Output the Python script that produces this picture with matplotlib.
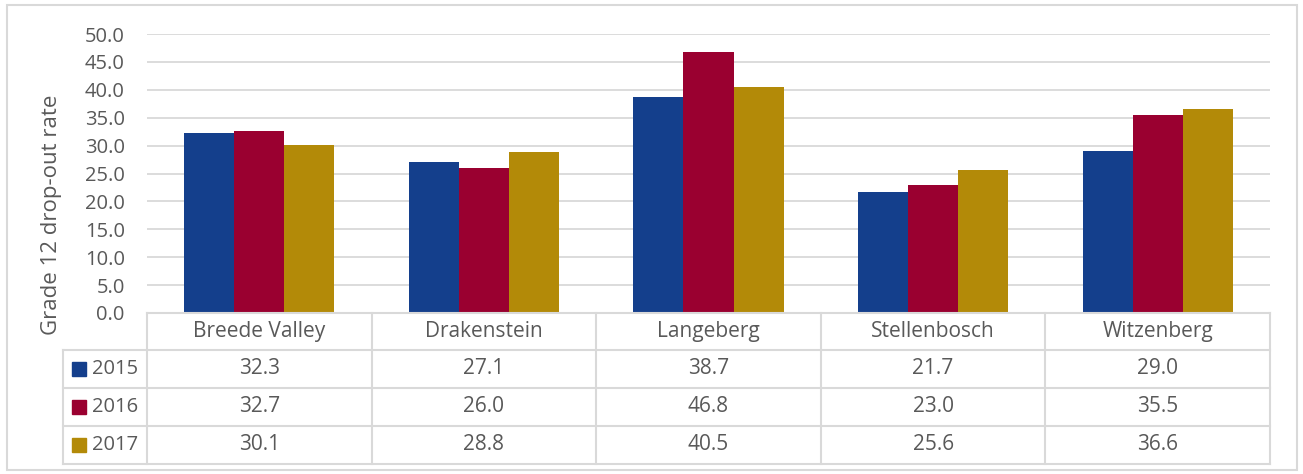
import numpy as np
import matplotlib.pyplot as plt
from matplotlib.patches import Rectangle

plt.rcParams['font.family'] = ['Open Sans', 'DejaVu Sans']

towns = ['Breede Valley', 'Drakenstein', 'Langeberg', 'Stellenbosch', 'Witzenberg']
years = ['2015', '2016', '2017']
rate_2015 = [32.3, 27.1, 38.7, 21.7, 29.0]
rate_2016 = [32.7, 26.0, 46.8, 23.0, 35.5]
rate_2017 = [30.1, 28.8, 40.5, 25.6, 36.6]

colors = ['#143f8c', '#9a0030', '#b38a08']
grey_text = '#595959'
grid_col = '#d9d9d9'

W, H = 1303, 474
fig = plt.figure(figsize=(W / 100, H / 100), dpi=100)

# plot area in pixel terms
left, right, top, bottom = 147, 1270, 34, 313
ax = fig.add_axes([left / W, 1 - bottom / H, (right - left) / W, (bottom - top) / H])

series = [rate_2015, rate_2016, rate_2017]
x = np.arange(len(towns))
bw = 0.223
for i, vals in enumerate(series):
    ax.bar(x + (i - 1) * bw, vals, width=bw, color=colors[i], zorder=3)

ax.set_xlim(-0.5, len(towns) - 0.5)
ax.set_ylim(0, 50)
ax.set_yticks(np.arange(0, 51, 5))
ax.set_yticklabels([f'{v:.1f}' for v in np.arange(0, 51, 5)])
ax.tick_params(axis='y', length=0, pad=16, labelsize=14.5, labelcolor=grey_text)
ax.set_xticks([])
ax.grid(axis='y', color=grid_col, linewidth=1.3, zorder=0)
for s in ax.spines.values():
    s.set_visible(False)

# overlay in pixel coords for the data table and frame
ov = fig.add_axes([0, 0, 1, 1], facecolor='none')
ov.set_xlim(0, W)
ov.set_ylim(H, 0)
ov.axis('off')

lw = 1.5
ov.add_patch(Rectangle((7, 5), 1290, 465, fill=False, edgecolor=grid_col, lw=1.5))

row_y = [313, 350, 388, 426, 464]
col_w = (right - left) / len(towns)
ov.plot([left, right], [row_y[0]] * 2, color=grid_col, lw=lw)
for yy in row_y[1:]:
    ov.plot([63, right], [yy, yy], color=grid_col, lw=lw)
ov.plot([63, 63], [row_y[1], row_y[-1]], color=grid_col, lw=lw)
for k in range(len(towns) + 1):
    xx = left + k * col_w
    ov.plot([xx, xx], [row_y[0], row_y[-1]], color=grid_col, lw=lw)

fs = 15
for k, name in enumerate(towns):
    cx = left + (k + 0.5) * col_w
    ov.text(cx, (row_y[0] + row_y[1]) / 2, name, ha='center', va='center',
            fontsize=fs, color=grey_text)
    for r, vals in enumerate(series):
        cy = (row_y[r + 1] + row_y[r + 2]) / 2
        ov.text(cx, cy, f'{vals[k]:.1f}', ha='center', va='center',
                fontsize=fs, color=grey_text)

for r, yr in enumerate(years):
    cy = (row_y[r + 1] + row_y[r + 2]) / 2
    ov.add_patch(Rectangle((72, cy - 7), 14, 14, color=colors[r]))
    ov.text(92, cy, yr, ha='left', va='center', fontsize=14.5, color=grey_text)

ov.text(52, 215, 'Grade 12 drop-out rate', rotation=90, ha='center', va='center',
        fontsize=16, color=grey_text)

fig.savefig('out.png', dpi=100)
